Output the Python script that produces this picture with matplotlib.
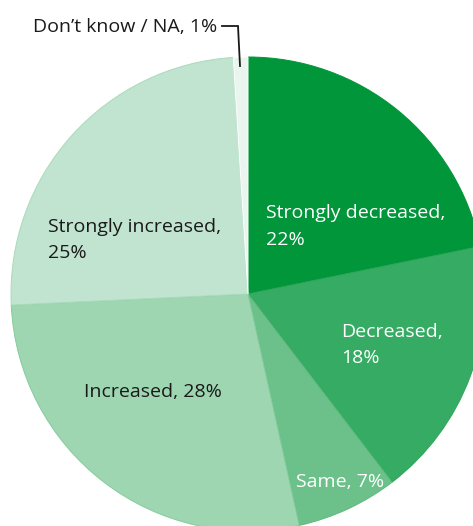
import matplotlib
matplotlib.use("Agg")
import matplotlib.pyplot as plt

categories = ["Strongly decreased", "Decreased", "Same", "Increased", "Strongly increased", "Don\u2019t know / NA"]
values = [22, 18, 7, 28, 25, 1]
colors = ["#009639", "#36ab63", "#6cc18a", "#9dd6b0", "#c0e4cf", "#e9f5ee"]
edges = ["#009639", "#2fa55c", "#5cb97e", "#86cc9f", "#a9dabb", "#ffffff"]

W, H = 473, 526
fig = plt.figure(figsize=(W / 100, H / 100), dpi=100)
ax = fig.add_axes([0, 0, 1, 1])

def py(y):
    return H - y

cx, cy, r = 248, py(294), 237
wedges, _ = ax.pie(values, colors=colors, startangle=90, counterclock=False,
                   center=(cx, cy), radius=r, frame=True,
                   wedgeprops=dict(linewidth=0.7))
for w, ec in zip(wedges, edges):
    w.set_edgecolor(ec)
ax.set_xlim(0, W)
ax.set_ylim(0, H)
ax.set_aspect("auto")
ax.axis("off")

font = "Open Sans"
fs = 14
dark = "#1a1a1a"

def label(x, y, s, color, ha="left"):
    ax.text(x, py(y), s, color=color, fontsize=fs, family=font, ha=ha, va="baseline")

label(266, 218, f"{categories[0]},", "white")
label(266, 245, f"{values[0]}%", "white")
label(341, 337, f"{categories[1]},", "white")
label(341, 363, f"{values[1]}%", "white")
label(296, 487, f"{categories[2]}, {values[2]}%", "white")
label(84, 397, f"{categories[3]}, {values[3]}%", dark)
label(48, 232, f"{categories[4]},", dark)
label(48, 258, f"{values[4]}%", dark)
label(217, 31.5, f"{categories[5]}, {values[5]}%", dark, ha="right")
ax.plot([222, 238, 240], [py(26), py(26), py(66)], color=dark, lw=1.3,
        solid_joinstyle="miter")

fig.savefig("out.png", dpi=100)
